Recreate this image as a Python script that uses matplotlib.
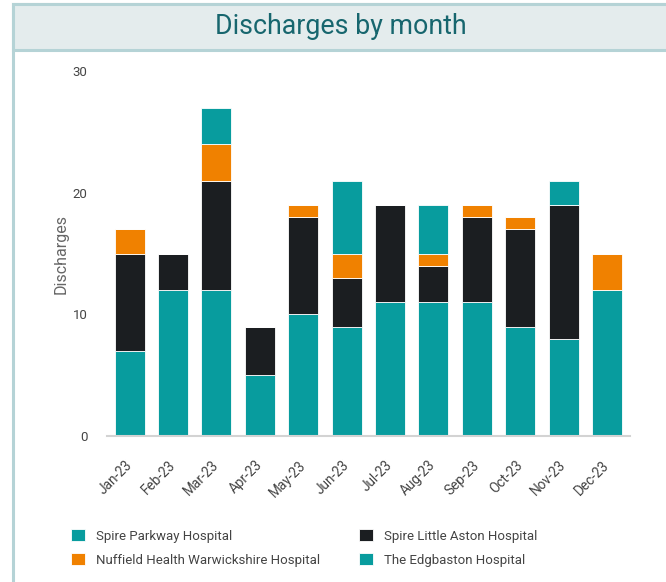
import numpy as np
import matplotlib.pyplot as plt
from matplotlib.patches import Rectangle

plt.rcParams['font.family'] = ['Roboto', 'DejaVu Sans']

months = ['Jan-23', 'Feb-23', 'Mar-23', 'Apr-23', 'May-23', 'Jun-23',
          'Jul-23', 'Aug-23', 'Sep-23', 'Oct-23', 'Nov-23', 'Dec-23']
spire_parkway = [7, 12, 12, 5, 10, 9, 11, 11, 11, 9, 8, 12]
spire_little_aston = [8, 3, 9, 4, 8, 4, 8, 3, 7, 8, 11, 0]
nuffield = [2, 0, 3, 0, 1, 2, 0, 1, 1, 1, 0, 3]
edgbaston = [0, 0, 3, 0, 0, 6, 0, 4, 0, 0, 2, 0]

series = [
    ('Spire Parkway Hospital', spire_parkway, '#089c9e'),
    ('Spire Little Aston Hospital', spire_little_aston, '#1b1e21'),
    ('Nuffield Health Warwickshire Hospital', nuffield, '#f08100'),
    ('The Edgbaston Hospital', edgbaston, '#089c9e'),
]

fig = plt.figure(figsize=(6.66, 5.82), dpi=100)

# panel frame + title band
fig.patches.append(Rectangle((13 / 666, -0.01), 1.0, 1 - 4 / 582 + 0.01, transform=fig.transFigure,
                             facecolor='none', edgecolor='#b5d3d6', linewidth=2.2))
fig.patches.append(Rectangle((13 / 666, 1 - 50 / 582), 1.0, 46 / 582, transform=fig.transFigure,
                             facecolor='#e4eced', edgecolor='#b5d3d6', linewidth=2.2))
fig.text(341 / 666, 1 - 27 / 582, 'Discharges by month', ha='center', va='center',
         fontsize=19.3, color='#17666e')

ax = fig.add_axes([107 / 666, 1 - 436 / 582, 523 / 666, 365 / 582])
x = np.arange(len(months))
bottom = np.zeros(len(months))
handles = []
for name, vals, col in series:
    vals = np.array(vals, dtype=float)
    b = ax.bar(x, vals, 0.69, bottom=bottom, color=col, edgecolor='white',
               linewidth=0.6, label=name)
    handles.append(b)
    bottom += vals

ax.set_xlim(-0.52, 11.53)
ax.set_ylim(0, 30)
ax.set_yticks([0, 10, 20, 30])
ax.tick_params(axis='y', length=0, pad=14, labelsize=9.5, labelcolor='#444444')
ax.set_xticks(x)
ax.set_xticklabels(months, rotation=45, ha='right', va='center', rotation_mode='anchor')
ax.tick_params(axis='x', length=0, pad=19.5, labelsize=9.8, labelcolor='#444444')
for s in ['top', 'right', 'left']:
    ax.spines[s].set_visible(False)
ax.spines['bottom'].set_color('#d3d3d3')
ax.spines['bottom'].set_linewidth(1.5)
ax.set_ylabel('Discharges', fontsize=11.5, color='#666666', labelpad=3)

# row-major order in a two-column legend
order = [0, 2, 1, 3]
fig.legend(handles=[handles[i] for i in order], labels=[series[i][0] for i in order],
           loc='upper left', bbox_to_anchor=(71 / 666, 1 - 529 / 582), ncol=2, frameon=False,
           fontsize=9.5, handlelength=1.05, handleheight=1.05, columnspacing=2.95,
           labelspacing=0.8, handletextpad=0.83, borderpad=0, borderaxespad=0,
           labelcolor='#444444')

fig.savefig('out.png', dpi=100)
